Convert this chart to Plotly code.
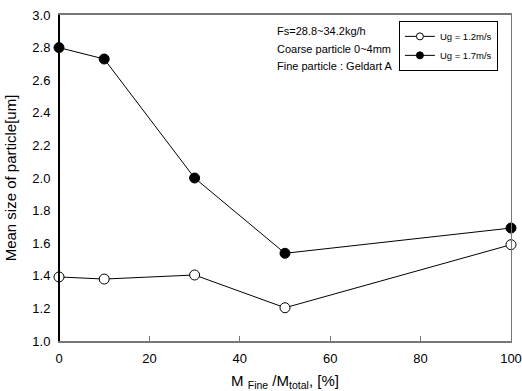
import plotly.graph_objects as go

x_vals = [0, 10, 30, 50, 100]
ug12 = [1.393, 1.38, 1.405, 1.204, 1.591]
ug17 = [2.80, 2.73, 2.00, 1.538, 1.693]
series_names = ["Ug = 1.2m/s", "Ug = 1.7m/s"]
notes = ["Fs=28.8~34.2kg/h", "Coarse particle 0~4mm", "Fine particle : Geldart A"]
x_ticks = [0, 20, 40, 60, 80, 100]
y_ticks = [1.0, 1.2, 1.4, 1.6, 1.8, 2.0, 2.2, 2.4, 2.6, 2.8, 3.0]
fills = ["white", "black"]

fig = go.Figure()
for name, ys, fc in zip(series_names, [ug12, ug17], fills):
    fig.add_trace(go.Scatter(x=x_vals, y=ys, mode="lines+markers", name=name,
                             showlegend=False,
                             line=dict(color="black", width=1),
                             marker=dict(symbol="circle", size=10, color=fc,
                                         line=dict(color="black", width=1)),
                             cliponaxis=False))
# legend entries (smaller symbols, as in the reference legend)
for name, fc in zip(series_names, fills):
    fig.add_trace(go.Scatter(x=[None], y=[None], mode="lines+markers", name=name,
                             line=dict(color="black", width=1),
                             marker=dict(symbol="circle", size=7, color=fc,
                                         line=dict(color="black", width=1))))

for i, t in enumerate(notes):
    fig.add_annotation(x=0.478, y=0.951 - i * 0.054, xref="paper", yref="paper",
                       text=t, showarrow=False, xanchor="left", yanchor="middle",
                       font=dict(size=11, color="black"))

fig.update_layout(
    width=522, height=391,
    margin=dict(l=59, r=11, t=15, b=50, autoexpand=False),
    paper_bgcolor="white", plot_bgcolor="white",
    font=dict(family="Liberation Sans, Arial, sans-serif", color="black"),
    legend=dict(x=0.971, y=0.982, xanchor="right", yanchor="top",
                bordercolor="black", borderwidth=1, bgcolor="white",
                font=dict(size=9.5), itemwidth=30, tracegroupgap=0),
    showlegend=True,
)
fig.update_xaxes(range=[0, 100], tickvals=x_ticks, ticks="inside", ticklen=5,
                 tickcolor="#777", showgrid=False, zeroline=False, automargin=False,
                 showline=True, linecolor="#777", linewidth=2, mirror=True,
                 tickfont=dict(size=13), ticklabelstandoff=4,
                 title=dict(text="M <sub>Fine</sub> /M<sub>total</sub>, [%]",
                            font=dict(size=15), standoff=14))
fig.update_yaxes(range=[1.0, 3.0], tickvals=y_ticks, tickformat=".1f", ticks="",
                 showgrid=False, zeroline=False, automargin=False,
                 showline=True, linecolor="#777", linewidth=1, mirror=True,
                 tickfont=dict(size=13), ticklabelstandoff=5,
                 title=dict(text="Mean size of particle[um]", font=dict(size=15), standoff=12))
# black left axis line
fig.add_shape(type="line", xref="paper", yref="paper", x0=0, x1=0, y0=0, y1=1,
              line=dict(color="black", width=2))

fig.write_html("out.html")
